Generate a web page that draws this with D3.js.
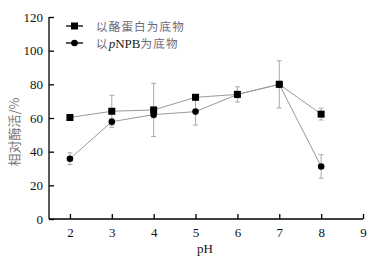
<!DOCTYPE html>
<html><head><meta charset="utf-8">
<script src="https://cdn.jsdelivr.net/npm/d3@7"></script>
<style>body{margin:0;background:#fff}</style>
</head><body>
<svg id="c" width="383" height="258"></svg>
<script>
const pH = [2,3,4,5,6,7,8];
const caseinVals = [60.3,64,64.8,72.3,74,80,62.3];
const caseinErr = [1.5,9.5,15.8,1.5,2,2,3.5];
const pnpbVals = [35.8,57.8,62,63.8,74,80,31.2];
const pnpbErr = [3.5,2,2,8,4.5,14,7];
const xTicks = [2,3,4,5,6,7,8,9];
const yTicks = [0,20,40,60,80,100,120];
const seriesNames = ["以酪蛋白为底物","以pNPB为底物"];

const svg = d3.select("#c");
const x = d3.scaleLinear().domain([1.5,9]).range([49,363]);
const y = d3.scaleLinear().domain([0,120]).range([219,17]);

const serif = "'Liberation Serif','Times New Roman',serif";
const cjk = "'Noto Sans CJK SC',sans-serif";

// axes
const xa = svg.append("g").attr("transform","translate(0,219)")
  .call(d3.axisBottom(x).tickValues(xTicks).tickSize(-5).tickPadding(9).tickSizeOuter(0));
const ya = svg.append("g").attr("transform","translate(49,0)")
  .call(d3.axisLeft(y).tickValues(yTicks).tickSize(-5).tickPadding(6).tickSizeOuter(0));
[xa,ya].forEach(g=>{
  g.selectAll("path,line").attr("stroke","#000").attr("stroke-width",1.3);
  g.selectAll("text").attr("font-family",serif).attr("font-size",13).attr("fill","#111");
});
xa.select(".domain").attr("d","M49,0H363");
ya.select(".domain").attr("d","M0,219V17");

// titles
svg.append("text").attr("x",205).attr("y",253).attr("text-anchor","middle")
  .attr("font-family",serif).attr("font-size",13).attr("fill","#111").text("pH");
svg.append("text").attr("transform","translate(19,132) rotate(-90)").attr("text-anchor","middle")
  .attr("font-family",cjk).attr("font-size",13).attr("fill","#777").text("相对酶活/%");

function drawSeries(vals, errs){
  const data = pH.map((p,i)=>({p,v:vals[i],e:errs[i]}));
  const eb = svg.append("g").attr("stroke","#aaa").attr("stroke-width",1);
  data.forEach(d=>{
    eb.append("line").attr("x1",x(d.p)).attr("x2",x(d.p)).attr("y1",y(d.v-d.e)).attr("y2",y(d.v+d.e));
    eb.append("line").attr("x1",x(d.p)-2.5).attr("x2",x(d.p)+2.5).attr("y1",y(d.v-d.e)).attr("y2",y(d.v-d.e));
    eb.append("line").attr("x1",x(d.p)-2.5).attr("x2",x(d.p)+2.5).attr("y1",y(d.v+d.e)).attr("y2",y(d.v+d.e));
  });
  svg.append("path").datum(data).attr("fill","none").attr("stroke","#999").attr("stroke-width",1)
    .attr("d",d3.line().x(d=>x(d.p)).y(d=>y(d.v)));
  return data;
}
const d1 = drawSeries(caseinVals, caseinErr);
const d2 = drawSeries(pnpbVals, pnpbErr);
svg.append("g").selectAll("rect").data(d1).join("rect")
  .attr("x",d=>x(d.p)-3.5).attr("y",d=>y(d.v)-3.5).attr("width",7).attr("height",7).attr("fill","#000");
svg.append("g").selectAll("circle").data(d2).join("circle")
  .attr("cx",d=>x(d.p)).attr("cy",d=>y(d.v)).attr("r",3.3).attr("fill","#000");

// legend
const lg = svg.append("g");
[26,43].forEach((ly,i)=>{
  lg.append("line").attr("x1",66).attr("x2",83).attr("y1",ly).attr("y2",ly).attr("stroke","#000").attr("stroke-width",1.3);
  if(i===0) lg.append("rect").attr("x",71).attr("y",ly-3.5).attr("width",7).attr("height",7).attr("fill","#000");
  else lg.append("circle").attr("cx",74.5).attr("cy",ly).attr("r",3.3).attr("fill","#000");
});
lg.append("text").attr("x",96).attr("y",30.5).attr("font-family",cjk).attr("font-size",11.5)
  .attr("letter-spacing",1.2).attr("fill","#6a6a7a").text(seriesNames[0]);
const t2 = lg.append("text").attr("x",96).attr("y",47.5).attr("font-family",cjk).attr("font-size",11.5)
  .attr("letter-spacing",1.2).attr("fill","#6a6a7a");
t2.append("tspan").text("以");
t2.append("tspan").attr("font-family",serif).attr("font-style","italic").attr("font-size",13).attr("letter-spacing",0).attr("fill","#222").text("p");
t2.append("tspan").attr("font-family",serif).attr("font-size",13).attr("letter-spacing",0).attr("fill","#222").text("NPB");
t2.append("tspan").text("为底物");
</script>
</body></html>
